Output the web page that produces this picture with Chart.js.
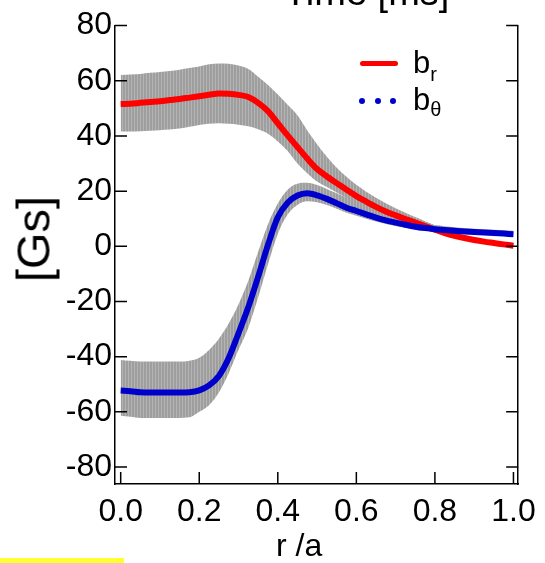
<!DOCTYPE html>
<html>
<head>
<meta charset="utf-8">
<script src="https://cdn.jsdelivr.net/npm/chart.js@4"></script>
<style>
  body { margin: 0; background: #fff; overflow: hidden; }
  #wrap { position: relative; width: 545px; height: 563px; overflow: hidden;
          font-family: "Liberation Sans", Arial, sans-serif; color: #000; }
  #grafico { position: absolute; left: 0; top: 0; }
  .txt { position: absolute; line-height: 1; white-space: nowrap; }
  .sub { position: relative; font-size: 20px; }
  .dot { position: absolute; width: 6px; height: 6px; border-radius: 50%; background: #0000cc; }
</style>
</head>
<body>
<div id="wrap">
  <canvas id="grafico" width="545" height="563"></canvas>
  <div class="txt" style="left:284px; top:-27px; font-size:38px;">Time [ms]</div>
  <div class="txt" style="left:276px; top:529px; font-size:32px;">r /a</div>
  <div class="txt" style="left:33px; top:239px; font-size:47px; transform:translate(-50%,-50%) rotate(-90deg);">[Gs]</div>

  <div style="position:absolute; left:360px; top:61px; width:38px; height:5px; background:#ff0000; border-radius:3px;"></div>
  <div class="txt" style="left:413px; top:47px; font-size:31px;">b<span class="sub" style="top:8px;">r</span></div>
  <div class="dot" style="left:359px; top:98px;"></div>
  <div class="dot" style="left:375px; top:98px;"></div>
  <div class="dot" style="left:390px; top:98px;"></div>
  <div class="txt" style="left:413px; top:84px; font-size:31px;">b<span class="sub" style="top:6px;">θ</span></div>

  <div style="position:absolute; left:0; top:558px; width:124px; height:5px; background:#ffff33;"></div>
</div>
<script>
// r/a
const rA = [0, 0.025, 0.05, 0.075, 0.1, 0.125, 0.15, 0.175, 0.2, 0.225,
            0.25, 0.275, 0.3, 0.325, 0.35, 0.375, 0.4, 0.425, 0.45, 0.475,
            0.5, 0.525, 0.55, 0.575, 0.6, 0.625, 0.65, 0.675, 0.7, 0.725,
            0.75, 0.775, 0.8, 0.825, 0.85, 0.875, 0.9, 0.925, 0.95, 0.975, 1.0];

// b_r e faixa de erro
const br = [51.6, 51.7, 52.0, 52.3, 52.6, 53.0, 53.4, 53.9, 54.4, 54.9,
            55.4, 55.3, 54.9, 54.1, 52.0, 49.0, 44.6, 40.2, 36.0, 31.8,
            28.0, 25.3, 22.9, 20.5, 18.2, 16.2, 14.3, 12.6, 11.2, 9.9,
            8.6, 7.3, 6.0, 4.8, 3.8, 3.0, 2.3, 1.7, 1.2, 0.7, 0.2];
const brHi = [62.1, 62.3, 62.5, 62.9, 63.2, 63.5, 64.0, 64.6, 65.2, 66.0,
              66.3, 66.2, 65.5, 64.3, 61.5, 58.5, 55.0, 51.3, 47.5, 42.0,
              37.0, 32.5, 28.5, 25.2, 22.3, 19.8, 17.6, 15.6, 13.8, 12.2,
              10.6, 9.1, 7.6, 6.2, 5.0, 4.0, 3.2, 2.5, 1.9, 1.3, 0.8];
const brLo = [41.6, 41.6, 41.7, 41.9, 42.1, 42.3, 42.7, 43.3, 44.0, 44.4,
              44.6, 44.4, 44.1, 43.5, 42.4, 40.8, 38.0, 34.5, 30.0, 26.5,
              23.5, 21.5, 19.5, 17.5, 15.5, 13.8, 12.2, 10.8, 9.7, 8.6,
              7.5, 6.3, 5.0, 3.9, 3.0, 2.3, 1.6, 1.1, 0.6, 0.2, -0.3];

// b_theta e faixa de erro
const bt = [-52.3, -52.5, -52.9, -53.0, -53.0, -53.0, -53.0, -52.9, -52.2, -50.4,
            -47.0, -40.5, -31.5, -22.0, -11.0, 0.5, 10.5, 15.8, 18.4, 19.2,
            18.5, 17.2, 15.6, 14.0, 12.8, 11.6, 10.4, 9.4, 8.6, 7.8,
            7.1, 6.6, 6.2, 5.9, 5.6, 5.4, 5.2, 5.0, 4.8, 4.6, 4.4];
const btHi = [-41.2, -41.5, -41.8, -41.8, -41.8, -41.8, -41.8, -41.5, -40.4, -37.6,
              -33.5, -28.0, -21.0, -12.5, -2.0, 8.0, 15.5, 20.5, 22.7, 23.0,
              22.2, 20.8, 19.2, 17.6, 16.0, 14.4, 13.0, 11.8, 10.8, 9.8,
              9.0, 8.3, 7.7, 7.3, 6.9, 6.6, 6.4, 6.2, 6.0, 5.8, 5.6];
const btLo = [-61.4, -61.8, -62.2, -62.2, -62.2, -62.2, -62.2, -62.0, -60.0, -57.6,
              -53.0, -46.0, -37.5, -29.5, -18.5, -6.5, 4.5, 11.5, 15.0, 16.3,
              16.0, 15.0, 13.6, 12.2, 11.1, 10.0, 9.0, 8.1, 7.4, 6.7,
              6.1, 5.6, 5.3, 5.0, 4.8, 4.6, 4.4, 4.2, 4.0, 3.8, 3.6];

const xTicks = [0, 0.2, 0.4, 0.6, 0.8, 1.0];
const yTicks = [-80, -60, -40, -20, 0, 20, 40, 60, 80];

const ctx = document.getElementById("grafico").getContext("2d");

function padraoCinza() {
  const c = document.createElement("canvas");
  c.width = 3; c.height = 1;
  const g = c.getContext("2d");
  g.fillStyle = "#9e9e9e"; g.fillRect(0, 0, 3, 1);
  g.fillStyle = "#b4b4b4"; g.fillRect(2, 0, 1, 1);
  return ctx.createPattern(c, "repeat");
}
const cinza = padraoCinza();

const pts = arr => rA.map((r, i) => ({ x: r, y: arr[i] }));

function linha(arr, cor, larg) {
  return { data: pts(arr), borderColor: cor, borderWidth: larg, pointRadius: 0,
           cubicInterpolationMode: "monotone", fill: false };
}
function faixa(arr, fill) {
  return { data: pts(arr), borderColor: "rgba(0,0,0,0)", borderWidth: 1, pointRadius: 0,
           cubicInterpolationMode: "monotone", fill: fill, backgroundColor: cinza };
}

const marcasInternas = {
  id: "marcasInternas",
  afterDraw(chart) {
    const { ctx, chartArea: a, scales: { x, y } } = chart;
    ctx.save();
    ctx.strokeStyle = "#000";
    ctx.lineWidth = 1.5;
    ctx.beginPath();
    yTicks.forEach(v => {
      const py = y.getPixelForValue(v);
      ctx.moveTo(a.left, py); ctx.lineTo(a.left + 12, py);
      ctx.moveTo(a.right, py); ctx.lineTo(a.right - 12, py);
    });
    xTicks.forEach(v => {
      const px = x.getPixelForValue(v);
      ctx.moveTo(px, a.bottom); ctx.lineTo(px, a.bottom - 12);
    });
    ctx.stroke();
    ctx.restore();
  }
};

const fonte = { family: "'Liberation Sans', Arial, sans-serif", size: 32 };

new Chart(ctx, {
  type: "line",
  data: {
    datasets: [
      linha(bt, "#0000cc", 6),
      linha(br, "#ff0000", 6),
      faixa(btHi, "+1"),
      faixa(btLo, false),
      faixa(brHi, "+1"),
      faixa(brLo, false),
    ],
  },
  options: {
    responsive: false,
    devicePixelRatio: 1,
    animation: false,
    layout: { padding: { top: 25.6, left: 0, right: 0, bottom: 0 } },
    plugins: { legend: { display: false }, tooltip: { enabled: false } },
    scales: {
      x: {
        type: "linear", position: "bottom", min: -0.0145, max: 1.012,
        grid: { display: false, drawTicks: false },
        border: { display: true, color: "#000", width: 1.5 },
        afterBuildTicks: s => { s.ticks = xTicks.map(v => ({ value: v })); },
        afterFit: s => { s.height = 79; },
        ticks: { font: fonte, color: "#000", padding: 9, autoSkip: false, maxRotation: 0,
                 callback: v => v.toFixed(1) },
      },
      y: {
        type: "linear", position: "left", min: -86.16, max: 80,
        grid: { display: false, drawTicks: false },
        border: { display: true, color: "#000", width: 1.5 },
        afterBuildTicks: s => { s.ticks = yTicks.map(v => ({ value: v })); },
        afterFit: s => { s.width = 115; },
        ticks: { font: fonte, color: "#000", padding: 3, autoSkip: false },
      },
      y2: {
        type: "linear", position: "right", min: -86.16, max: 80,
        grid: { display: false, drawTicks: false },
        border: { display: true, color: "#000", width: 1.5 },
        afterFit: s => { s.width = 26.3; },
        ticks: { display: false },
      },
    },
  },
  plugins: [marcasInternas],
});
</script>
</body>
</html>
